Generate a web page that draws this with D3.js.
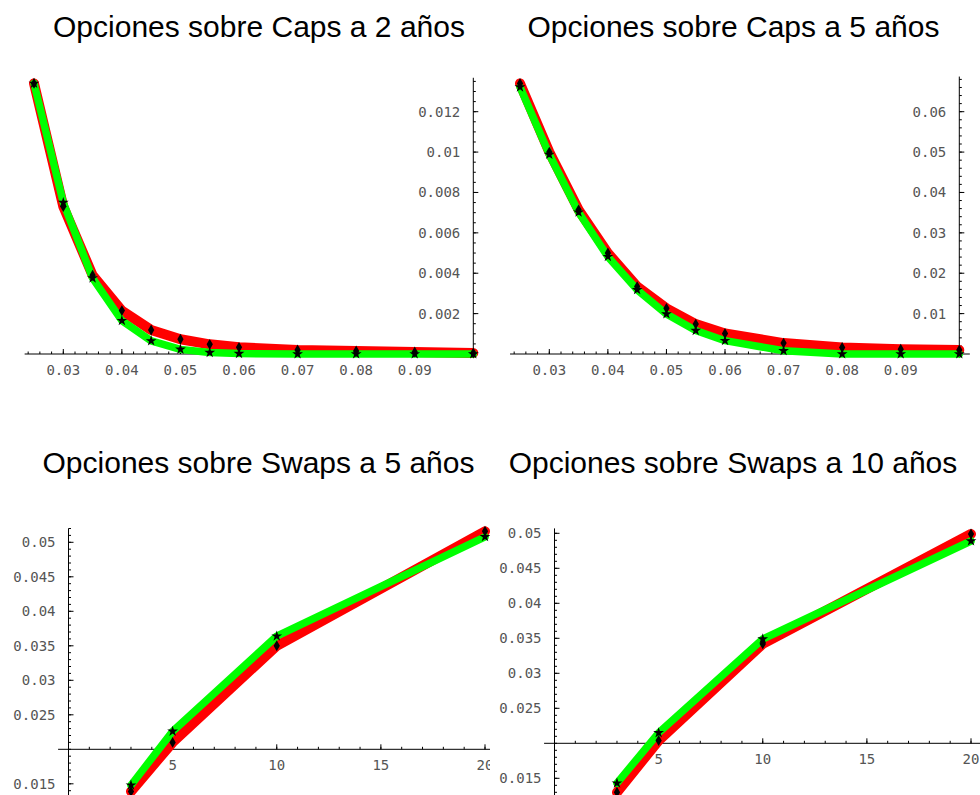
<!DOCTYPE html>
<html>
<head>
<meta charset="utf-8">
<script src="https://cdn.jsdelivr.net/npm/d3@7"></script>
<style>
html,body{margin:0;padding:0;background:#fff;}
svg{display:block;}
</style>
</head>
<body>
<svg id="chart" width="980" height="795"></svg>
<script>
// ---------- DATA ----------
const titles = [
  "Opciones sobre Caps a 2 años",
  "Opciones sobre Caps a 5 años",
  "Opciones sobre Swaps a 5 años",
  "Opciones sobre Swaps a 10 años"
];
const capStrikes = [0.025, 0.03, 0.035, 0.04, 0.045, 0.05, 0.055, 0.06, 0.07, 0.08, 0.09, 0.10];
const caps2Red   = [0.0134, 0.0073, 0.0039, 0.00215, 0.00119, 0.00073, 0.00048, 0.00033, 0.0002, 0.00015, 0.0001, 0.00005];
const caps2Green = [0.0134, 0.0075, 0.00376, 0.00165, 0.00065, 0.00023, 0.00007, 0.00002, 0.0, 0.0, 0.0, 0.0];
const caps5Red   = [0.0670, 0.0500, 0.0357, 0.0250, 0.0167, 0.0113, 0.0074, 0.0051, 0.0027, 0.0016, 0.0012, 0.0010];
const caps5Green = [0.0661, 0.0494, 0.0351, 0.0241, 0.0159, 0.0099, 0.0058, 0.0033, 0.0008, 0.0, 0.0, 0.0];
const swapMaturities = [3, 5, 10, 20];
const swap5Red    = [0.0139, 0.0210, 0.0350, 0.0516];
const swap5Green  = [0.0148, 0.0226, 0.0364, 0.0508];
const swap10Red   = [0.0130, 0.0204, 0.0342, 0.0499];
const swap10Green = [0.0143, 0.0215, 0.0349, 0.0489];

const capXTicks   = [0.03, 0.04, 0.05, 0.06, 0.07, 0.08, 0.09];
const caps2YTicks = [0.002, 0.004, 0.006, 0.008, 0.01, 0.012];
const caps5YTicks = [0.01, 0.02, 0.03, 0.04, 0.05, 0.06];
const swapXTicks  = [5, 10, 15, 20];
const swapYTicks  = [0.015, 0.025, 0.03, 0.035, 0.04, 0.045, 0.05];

// ---------- LAYOUT ----------
const panels = [
  { title: titles[0], xs: capStrikes, red: caps2Red, green: caps2Green,
    xDom: [0.03, 0.10], xRng: [63.3, 473.3], yDom: [0, 0.012], yRng: [354, 111.7],
    xExt: [0.0234, 0.1006], yExt: [-0.0002, 0.01368], origin: [0.10, 0],
    xTicks: capXTicks, yTicks: caps2YTicks, xMinor: [0.024, 0.1001, 0.002], yMinor: [0, 0.0136, 0.0005],
    clip: [0, 0, 490, 420], titleXY: [259, 37] },
  { title: titles[1], xs: capStrikes, red: caps5Red, green: caps5Green,
    xDom: [0.03, 0.10], xRng: [549.3, 959.3], yDom: [0, 0.06], yRng: [354, 111.7],
    xExt: [0.0233, 0.1018], yExt: [-0.001, 0.0687], origin: [0.10, 0],
    xTicks: capXTicks, yTicks: caps5YTicks, xMinor: [0.024, 0.1001, 0.002], yMinor: [0, 0.0681, 0.002],
    clip: [490, 0, 490, 420], titleXY: [733.5, 37] },
  { title: titles[2], xs: swapMaturities, red: swap5Red, green: swap5Green,
    xDom: [0, 20], xRng: [68.5, 485], yDom: [0.02, 0.05], yRng: [749.3, 542.3],
    xExt: [-0.5, 21], yExt: [0.012, 0.052], origin: [0, 0.02],
    xTicks: swapXTicks, yTicks: swapYTicks, xMinor: [0, 21, 1], yMinor: [0.013, 0.0521, 0.001],
    clip: [0, 420, 490, 375], titleXY: [258.5, 473] },
  { title: titles[3], xs: swapMaturities, red: swap10Red, green: swap10Green,
    xDom: [0, 20], xRng: [554.5, 971], yDom: [0.02, 0.05], yRng: [743.3, 533.3],
    xExt: [-0.5, 21], yExt: [0.012, 0.0507], origin: [0, 0.02],
    xTicks: swapXTicks, yTicks: swapYTicks, xMinor: [0, 21, 1], yMinor: [0.013, 0.0506, 0.001],
    clip: [490, 420, 490, 375], titleXY: [733, 473] }
];

const svg = d3.select("#chart");
const defs = svg.append("defs");
const fmt = v => String(+v.toFixed(5));
const tickFont = "'DejaVu Sans Mono', 'Liberation Mono', monospace";

panels.forEach((p, i) => {
  defs.append("clipPath").attr("id", "clip" + i)
    .append("rect").attr("x", p.clip[0]).attr("y", p.clip[1]).attr("width", p.clip[2]).attr("height", p.clip[3]);
  const g = svg.append("g").attr("clip-path", `url(#clip${i})`);
  const x = d3.scaleLinear().domain(p.xDom).range(p.xRng);
  const y = d3.scaleLinear().domain(p.yDom).range(p.yRng);
  const ox = x(p.origin[0]), oy = y(p.origin[1]);

  // title
  g.append("text").attr("x", p.titleXY[0]).attr("y", p.titleXY[1])
    .attr("text-anchor", "middle").attr("font-family", "'Liberation Sans', Arial, sans-serif")
    .attr("font-size", 30).attr("fill", "#000").text(p.title);

  // axes lines
  g.append("line").attr("x1", x(p.xExt[0])).attr("x2", x(p.xExt[1])).attr("y1", oy).attr("y2", oy)
    .attr("stroke", "#000").attr("stroke-width", 1);
  g.append("line").attr("x1", ox).attr("x2", ox).attr("y1", y(p.yExt[0])).attr("y2", y(p.yExt[1]))
    .attr("stroke", "#000").attr("stroke-width", 1);

  // minor ticks
  const xm = d3.range(p.xMinor[0], p.xMinor[1], p.xMinor[2]);
  g.selectAll(null).data(xm).enter().append("line")
    .attr("x1", d => x(d)).attr("x2", d => x(d)).attr("y1", oy).attr("y2", oy - 2.5)
    .attr("stroke", "#000").attr("stroke-width", 1);
  const ym = d3.range(p.yMinor[0], p.yMinor[1], p.yMinor[2]);
  g.selectAll(null).data(ym).enter().append("line")
    .attr("x1", ox).attr("x2", ox + 2.5).attr("y1", d => y(d)).attr("y2", d => y(d))
    .attr("stroke", "#000").attr("stroke-width", 1);
  // major ticks
  g.selectAll(null).data(p.xTicks).enter().append("line")
    .attr("x1", d => x(d)).attr("x2", d => x(d)).attr("y1", oy).attr("y2", oy - 5)
    .attr("stroke", "#000").attr("stroke-width", 1);
  g.selectAll(null).data(p.yTicks).enter().append("line")
    .attr("x1", ox).attr("x2", ox + 5).attr("y1", d => y(d)).attr("y2", d => y(d))
    .attr("stroke", "#000").attr("stroke-width", 1);

  // tick labels
  g.selectAll(null).data(p.xTicks).enter().append("text")
    .attr("x", d => x(d)).attr("y", oy + 21)
    .attr("text-anchor", "middle").attr("font-family", tickFont).attr("font-size", 14)
    .attr("fill", "#555").text(fmt);
  g.selectAll(null).data(p.yTicks).enter().append("text")
    .attr("x", ox - 13).attr("y", d => y(d)).attr("dy", "0.35em")
    .attr("text-anchor", "end").attr("font-family", tickFont).attr("font-size", 14)
    .attr("fill", "#555").text(fmt);

  // lines
  const line = d3.line().x(d => x(d[0])).y(d => y(d[1]));
  const redPts = p.xs.map((v, k) => [v, p.red[k]]);
  const greenPts = p.xs.map((v, k) => [v, p.green[k]]);
  g.append("path").attr("d", line(redPts)).attr("fill", "none").attr("stroke", "#ff0000")
    .attr("stroke-width", 10).attr("stroke-linejoin", "round").attr("stroke-linecap", "round");
  g.append("path").attr("d", line(greenPts)).attr("fill", "none").attr("stroke", "#00ff00")
    .attr("stroke-width", 7.5).attr("stroke-linejoin", "round").attr("stroke-linecap", "round");

  // markers
  const diamond = d3.symbol().type(d3.symbolDiamond).size(34);
  const star = d3.symbol().type(d3.symbolStar).size(36);
  g.selectAll(null).data(redPts).enter().append("path")
    .attr("d", diamond).attr("transform", d => `translate(${x(d[0])},${y(d[1])})`).attr("fill", "#000");
  g.selectAll(null).data(greenPts).enter().append("path")
    .attr("d", star).attr("transform", d => `translate(${x(d[0])},${y(d[1])})`).attr("fill", "#000");
});
</script>
</body>
</html>
